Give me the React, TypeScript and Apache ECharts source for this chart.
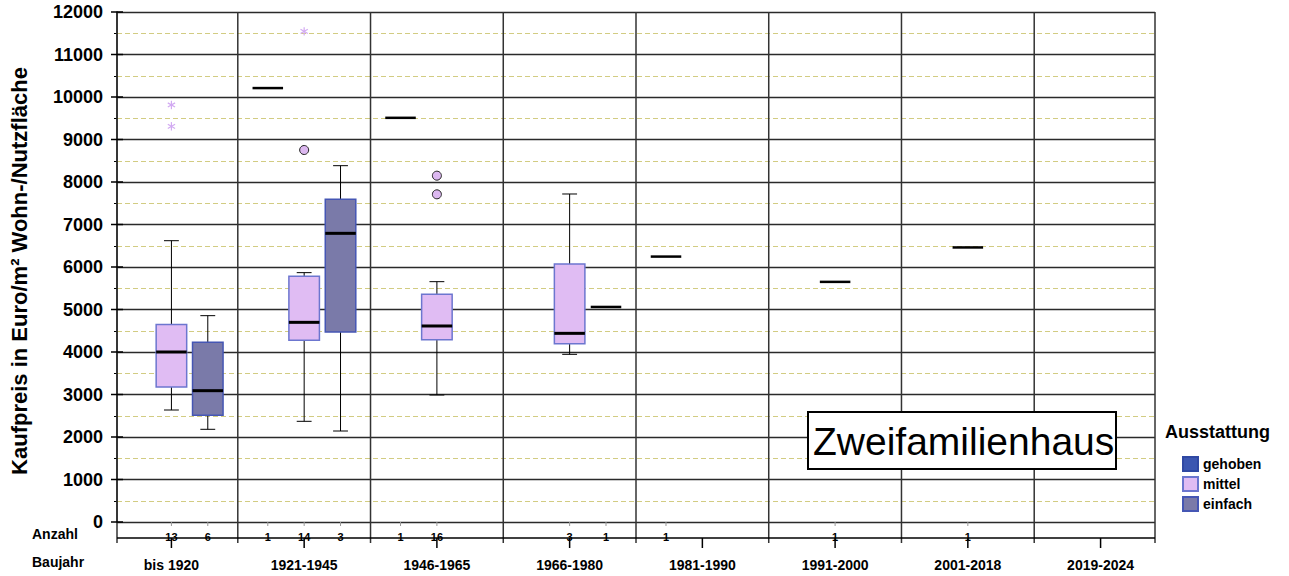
import React, { useEffect, useRef } from 'react';
import * as echarts from 'echarts';

const FONT = 'Liberation Sans, Arial, Helvetica, sans-serif';

// Baujahr categories (x axis)
const categories = ['bis 1920', '1921-1945', '1946-1965', '1966-1980', '1981-1990', '1991-2000', '2001-2018', '2019-2024'];
// Ausstattung levels (legend)
const levels = ['gehoben', 'mittel', 'einfach'];
const levelFill = ['#3b56b1', '#e0bcf3', '#7a7aa9'];
const levelBorder = ['#2f48a3', '#6c76cf', '#4556b4'];

// Boxplots: [category index, min, q1, median, q3, max]
const boxesGehoben: number[][] = [];
const boxesMittel = [
  [0, 2635, 3176, 4000, 4650, 6619],
  [1, 2369, 4275, 4698, 5780, 5867],
  [2, 2988, 4290, 4612, 5357, 5655],
  [3, 3945, 4196, 4439, 6071, 7718],
];
const boxesEinfach = [
  [0, 2181, 2510, 3090, 4228, 4855],
  [1, 2141, 4471, 6792, 7592, 8384],
];

// Single observations (n = 1): [category index, value]
const singleGehoben = [[1, 10210], [2, 9510], [4, 6245]];
const singleMittel = [[5, 5650], [6, 6460]];
const singleEinfach = [[3, 5060]];

// Outliers (circles) and extremes (stars), category mittel: [category index, value]
const outliersMittel = [[1, 8753], [2, 8149], [2, 7710]];
const extremesMittel = [[0, 9812], [0, 9310], [1, 11545]];

// Anzahl per category
const anzahlGehoben = [0, 1, 1, 0, 1, 0, 0, 0];
const anzahlMittel = [13, 14, 16, 3, 0, 1, 1, 0];
const anzahlEinfach = [6, 3, 0, 1, 0, 0, 0, 0];

// y axis tick values
const yTicks = [0, 1000, 2000, 3000, 4000, 5000, 6000, 7000, 8000, 9000, 10000, 11000, 12000];

const Y_MAX = 12000;
const X_MIN = -0.41;
const X_MAX = 7.41;
const SLOT = [-0.274, 0, 0.274];
const HALF_W = 0.115;
const CAP_W = 0.056;

export default function App() {
  const ref = useRef<HTMLDivElement>(null);

  useEffect(() => {
    document.body.style.margin = '0';
    document.body.style.overflow = 'hidden';
    const chart = echarts.init(ref.current as HTMLDivElement, null, { renderer: 'svg' });

    const boxSets = [boxesGehoben, boxesMittel, boxesEinfach];
    const singleSets = [singleGehoben, singleMittel, singleEinfach];
    const anzahlSets = [anzahlGehoben, anzahlMittel, anzahlEinfach];

    const levelSeries = levels.map((name, li) => ({
      type: 'custom',
      name,
      clip: false,
      z: 5,
      itemStyle: { color: levelFill[li], borderColor: levelBorder[li], borderWidth: 1 },
      data: [
        ...boxSets[li],
        ...singleSets[li].map(([c, v]) => [c, v, v, v, v, v]),
      ],
      renderItem: (params: any, api: any) => {
        const c = api.value(0) + SLOT[li];
        const mn = api.value(1), q1 = api.value(2), md = api.value(3), q3 = api.value(4), mx = api.value(5);
        const xc = api.coord([c, 0])[0];
        const xl = api.coord([c - HALF_W, 0])[0];
        const xr = api.coord([c + HALF_W, 0])[0];
        const cl = api.coord([c - CAP_W, 0])[0];
        const cr = api.coord([c + CAP_W, 0])[0];
        const y = (v: number) => api.coord([c, v])[1];
        if (mn === mx) {
          return {
            type: 'line',
            shape: { x1: xl, y1: y(md), x2: xr, y2: y(md) },
            style: { stroke: '#000', lineWidth: 2.5 },
          };
        }
        const wStyle = { stroke: '#000', lineWidth: 1 };
        return {
          type: 'group',
          children: [
            { type: 'line', shape: { x1: xc, y1: y(q3), x2: xc, y2: y(mx) }, style: wStyle },
            { type: 'line', shape: { x1: cl, y1: y(mx), x2: cr, y2: y(mx) }, style: wStyle },
            { type: 'line', shape: { x1: xc, y1: y(q1), x2: xc, y2: y(mn) }, style: wStyle },
            { type: 'line', shape: { x1: cl, y1: y(mn), x2: cr, y2: y(mn) }, style: wStyle },
            {
              type: 'rect',
              shape: { x: xl, y: y(q3), width: xr - xl, height: y(q1) - y(q3) },
              style: { fill: levelFill[li], stroke: levelBorder[li], lineWidth: 1.5 },
            },
            { type: 'line', shape: { x1: xl, y1: y(md), x2: xr, y2: y(md) }, style: { stroke: '#000', lineWidth: 3 } },
          ],
        };
      },
    }));

    const frameXs = [X_MIN, ...categories.slice(1).map((_, i) => i + 0.5), X_MAX];

    const countItems: number[][] = [];
    anzahlSets.forEach((arr, li) => {
      arr.forEach((n, i) => {
        if (n > 0) countItems.push([i + SLOT[li], n]);
      });
    });

    const option: any = {
      animation: false,
      backgroundColor: '#fff',
      textStyle: { fontFamily: FONT },
      grid: { left: 117, right: 134, top: 12, bottom: 54, containLabel: false },
      xAxis: { type: 'value', min: X_MIN, max: X_MAX, show: false },
      yAxis: {
        type: 'value',
        min: 0,
        max: Y_MAX,
        interval: 1000,
        axisLine: { show: true, onZero: false, lineStyle: { color: '#000', width: 1.5 } },
        axisTick: { show: false },
        minorTick: { show: true, splitNumber: 2, length: 3, lineStyle: { color: '#000', width: 1 } },
        axisLabel: {
          fontSize: 18,
          fontWeight: 'bold',
          color: '#000',
          margin: 14,
          fontFamily: FONT,
          formatter: (v: number) => String(v),
        },
        splitLine: { show: true, lineStyle: { color: '#2a2a2a', width: 1.3 } },
        minorSplitLine: { show: true, lineStyle: { color: '#d2cc82', width: 1.1, type: [5, 3] } },
      },
      legend: {
        show: true,
        data: levels,
        orient: 'vertical',
        left: 1177,
        top: 451,
        itemWidth: 15,
        itemHeight: 14,
        itemGap: 4,
        icon: 'rect',
        selectedMode: false,
        textStyle: { fontSize: 14, fontWeight: 'bold', color: '#000', fontFamily: FONT },
      },
      series: [
        {
          type: 'custom',
          clip: false,
          z: 3,
          silent: true,
          data: frameXs.map((x) => [x, 0]),
          renderItem: (params: any, api: any) => {
            const x = api.value(0);
            const t = api.coord([x, Y_MAX]);
            const b = api.coord([x, 0]);
            return {
              type: 'line',
              shape: { x1: t[0], y1: t[1], x2: b[0], y2: b[1] + 21 },
              style: { stroke: '#333', lineWidth: 1.5 },
            };
          },
        },
        {
          type: 'custom',
          clip: false,
          z: 3,
          silent: true,
          data: yTicks.map((v) => [X_MIN, v]),
          renderItem: (params: any, api: any) => {
            const p = api.coord([api.value(0), api.value(1)]);
            return {
              type: 'line',
              shape: { x1: p[0] - 6, y1: p[1], x2: p[0] + 6, y2: p[1] },
              style: { stroke: '#000', lineWidth: 1.5 },
            };
          },
        },
        {
          type: 'custom',
          clip: false,
          z: 3,
          silent: true,
          data: categories.map((_, i) => [i, 0]),
          renderItem: (params: any, api: any) => {
            const i = api.value(0);
            const p = api.coord([i, 0]);
            const children: any[] = [
              { type: 'line', shape: { x1: p[0], y1: p[1] + 16, x2: p[0], y2: p[1] + 26 }, style: { stroke: '#000', lineWidth: 1.5 } },
              {
                type: 'text',
                x: p[0],
                y: p[1] + 43,
                style: { text: categories[i], align: 'center', verticalAlign: 'middle', fill: '#000', fontSize: 14, fontWeight: 'bold', fontFamily: FONT },
              },
            ];
            if (params.dataIndex === 0) {
              const a = api.coord([X_MIN, 0]);
              const b = api.coord([X_MAX, 0]);
              children.push({ type: 'line', shape: { x1: a[0], y1: a[1] + 16, x2: b[0], y2: b[1] + 16 }, style: { stroke: '#000', lineWidth: 1.5 } });
            }
            return { type: 'group', children };
          },
        },
        {
          type: 'custom',
          clip: false,
          z: 4,
          silent: true,
          data: countItems,
          renderItem: (params: any, api: any) => {
            const p = api.coord([api.value(0), 0]);
            return {
              type: 'group',
              children: [
                { type: 'line', shape: { x1: p[0], y1: p[1], x2: p[0], y2: p[1] + 4 }, style: { stroke: '#999', lineWidth: 1 } },
                {
                  type: 'text',
                  x: p[0],
                  y: p[1] + 14.5,
                  style: { text: String(api.value(1)), align: 'center', verticalAlign: 'middle', fill: '#000', fontSize: 11, fontWeight: 'bold', fontFamily: FONT },
                },
              ],
            };
          },
        },
        ...levelSeries,
        {
          type: 'custom',
          name: 'Ausreißer',
          clip: false,
          z: 6,
          data: outliersMittel,
          renderItem: (params: any, api: any) => {
            const p = api.coord([api.value(0) + SLOT[1], api.value(1)]);
            return {
              type: 'circle',
              shape: { cx: p[0], cy: p[1], r: 4.5 },
              style: { fill: '#dcb8f0', stroke: '#222', lineWidth: 1 },
            };
          },
        },
        {
          type: 'custom',
          name: 'Extremwerte',
          clip: false,
          z: 6,
          data: extremesMittel,
          renderItem: (params: any, api: any) => {
            const p = api.coord([api.value(0) + SLOT[1], api.value(1)]);
            const r = 4.2;
            const st = { stroke: '#d2aaf2', lineWidth: 1.2 };
            const arm = (deg: number) => {
              const a = (deg * Math.PI) / 180;
              return { type: 'line', shape: { x1: p[0] - r * Math.cos(a), y1: p[1] - r * Math.sin(a), x2: p[0] + r * Math.cos(a), y2: p[1] + r * Math.sin(a) }, style: st };
            };
            return { type: 'group', children: [arm(90), arm(30), arm(150)] };
          },
        },
      ],
      graphic: [
        {
          type: 'text',
          z: 100,
          x: 19,
          y: 271,
          rotation: Math.PI / 2,
          style: { text: 'Kaufpreis in Euro/m² Wohn-/Nutzfläche', align: 'center', verticalAlign: 'middle', fill: '#000', fontSize: 22, fontWeight: 'bold', fontFamily: FONT },
        },
        {
          type: 'text',
          z: 100,
          x: 32,
          y: 534,
          style: { text: 'Anzahl', align: 'left', verticalAlign: 'middle', fill: '#000', fontSize: 14, fontWeight: 'bold', fontFamily: FONT },
        },
        {
          type: 'text',
          z: 100,
          x: 32,
          y: 562,
          style: { text: 'Baujahr', align: 'left', verticalAlign: 'middle', fill: '#000', fontSize: 14, fontWeight: 'bold', fontFamily: FONT },
        },
        {
          type: 'text',
          z: 100,
          x: 1165,
          y: 432,
          style: { text: 'Ausstattung', align: 'left', verticalAlign: 'middle', fill: '#000', fontSize: 18, fontWeight: 'bold', fontFamily: FONT },
        },
        {
          type: 'rect',
          z: 100,
          shape: { x: 808, y: 412, width: 308, height: 57 },
          style: { fill: '#fff', stroke: '#000', lineWidth: 2 },
        },
        {
          type: 'text',
          z: 101,
          x: 813,
          y: 441,
          style: { text: 'Zweifamilienhaus', align: 'left', verticalAlign: 'middle', fill: '#000', fontSize: 39, fontFamily: FONT },
        },
      ],
    };

    chart.setOption(option);
    return () => chart.dispose();
  }, []);

  return <div ref={ref} style={{ width: 1289, height: 576 }} />;
}
